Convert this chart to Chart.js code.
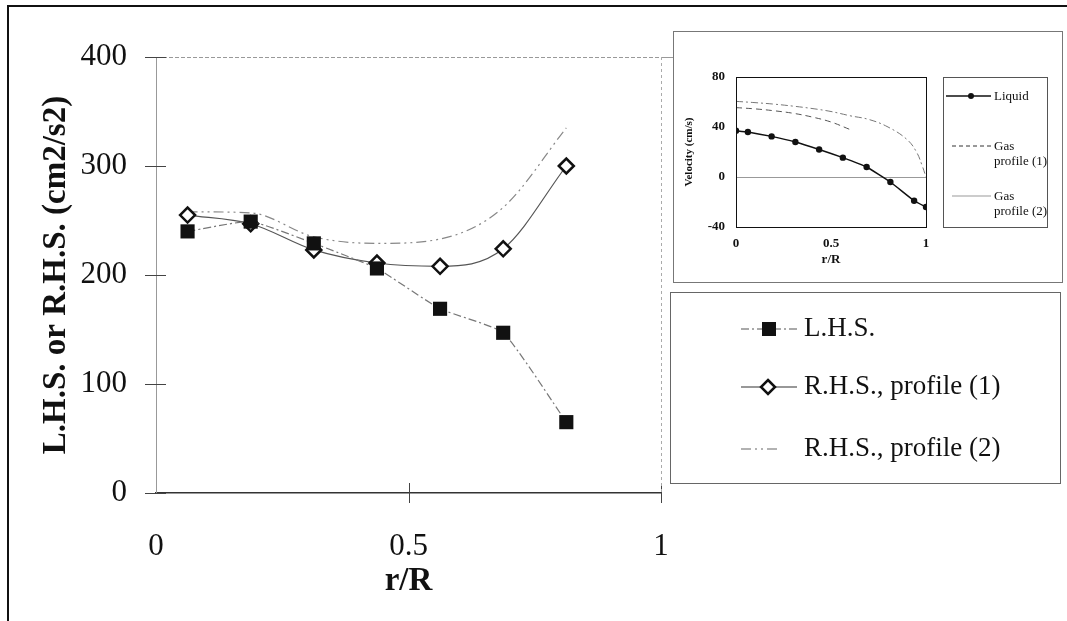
<!DOCTYPE html>
<html>
<head>
<meta charset="utf-8">
<script src="https://cdn.jsdelivr.net/npm/chart.js@4.4.1/dist/chart.umd.min.js"></script>
<style>
  html, body { margin: 0; padding: 0; background: #fff; }
  #wrap { position: relative; width: 1067px; height: 621px; overflow: hidden; font-family: "Liberation Serif", "Times New Roman", serif; color: #111; }
  #frame { position: absolute; left: 7px; top: 5px; width: 1100px; height: 700px; border-left: 2px solid #111; border-top: 2px solid #111; }
  #mainChart { position: absolute; left: 0; top: 0; }
  #insetBox { position: absolute; left: 673px; top: 31px; width: 388px; height: 250px; border: 1px solid #777; background: #fff; }
  #insetChart { position: absolute; left: 674px; top: 32px; }
  #insetLegend { position: absolute; left: 943px; top: 77px; width: 103px; height: 149px; border: 1px solid #555; font-size: 13px; line-height: 15px; }
  #mainLegend { position: absolute; left: 670px; top: 292px; width: 389px; height: 190px; border: 1px solid #666; font-size: 27px; }
  .row { position: absolute; white-space: nowrap; }
  .row svg { position: absolute; left: 0; top: 0; }
  .row span { position: absolute; }
</style>
</head>
<body>
<div id="wrap">
  <div id="frame"></div>
  <canvas id="mainChart" width="1067" height="621"></canvas>
  <div id="insetBox"></div>
  <canvas id="insetChart" width="386" height="250"></canvas>

  <div id="insetLegend">
    <div class="row" style="left:0;top:8px;width:103px;height:20px">
      <svg width="50" height="20"><line x1="2" y1="10" x2="47" y2="10" stroke="#111" stroke-width="1.5"/><circle cx="27" cy="10" r="3" fill="#111"/></svg>
      <span style="left:50px;top:2px">Liquid</span>
    </div>
    <div class="row" style="left:0;top:58px;width:103px;height:34px">
      <svg width="50" height="20"><line x1="8" y1="10" x2="47" y2="10" stroke="#333" stroke-width="1" stroke-dasharray="4,3"/></svg>
      <span style="left:50px;top:2px">Gas<br>profile (1)</span>
    </div>
    <div class="row" style="left:0;top:108px;width:103px;height:34px">
      <svg width="50" height="20"><line x1="8" y1="10" x2="47" y2="10" stroke="#999" stroke-width="1"/></svg>
      <span style="left:50px;top:2px">Gas<br>profile (2)</span>
    </div>
  </div>

  <div id="mainLegend">
    <div class="row" style="left:68px;top:20px;width:300px;height:32px">
      <svg width="66" height="32"><line x1="2" y1="16" x2="58" y2="16" stroke="#555" stroke-width="1.2" stroke-dasharray="8,3,2,3"/><rect x="23" y="9" width="14" height="14" fill="#111"/></svg>
      <span style="left:65px;top:-1px">L.H.S.</span>
    </div>
    <div class="row" style="left:68px;top:78px;width:320px;height:32px">
      <svg width="66" height="32"><line x1="2" y1="16" x2="58" y2="16" stroke="#333" stroke-width="1.2"/><polygon points="29,9 36,16 29,23 22,16" fill="#fff" stroke="#111" stroke-width="2.5"/></svg>
      <span style="left:65px;top:-1px">R.H.S., profile (1)</span>
    </div>
    <div class="row" style="left:68px;top:140px;width:320px;height:32px">
      <svg width="66" height="32"><line x1="2" y1="16" x2="42" y2="16" stroke="#666" stroke-width="1.2" stroke-dasharray="10,4,2,4,2,4"/></svg>
      <span style="left:65px;top:-1px">R.H.S., profile (2)</span>
    </div>
  </div>
</div>

<script>
// main chart: r/R positions and the three series
const rMain = [0.0625, 0.1875, 0.3125, 0.4375, 0.5625, 0.6875, 0.8125];
const lhs = [240, 249, 229, 206, 169, 147, 65];
const rhs1 = [255, 247, 223, 211, 208, 224, 300];
const rhs2 = [258, 257, 235, 229, 233, 262, 335];
const mainXTicks = [0, 0.5, 1];
const mainYTicks = [0, 100, 200, 300, 400];

// inset: velocity profiles
const rLiquid = [0, 0.0625, 0.1875, 0.3125, 0.4375, 0.5625, 0.6875, 0.8125, 0.9375, 1];
const liquid = [37, 36, 32.5, 28, 22, 15.5, 8, -4, -19, -24];
const rGas1 = [0, 0.1, 0.2, 0.3, 0.4, 0.5, 0.6];
const gas1 = [55.5, 54.5, 53, 51, 48, 44, 38];
const rGas2 = [0, 0.1, 0.2, 0.3, 0.4, 0.5, 0.6, 0.7, 0.8, 0.9, 0.95, 0.98, 1];
const gas2 = [60.5, 59.5, 58.3, 56.7, 54.8, 52.4, 49, 46, 40, 30, 20, 9, 0];

const SERIF = '"Liberation Serif", "Times New Roman", serif';
const pts = (xs, ys) => xs.map((x, i) => ({ x: x, y: ys[i] }));

const crossTicks = {
    id: 'crossTicks',
    afterDraw(chart) {
        const { ctx, scales: { x, y } } = chart;
        ctx.save();
        ctx.strokeStyle = '#444';
        ctx.lineWidth = 1;
        y.ticks.forEach(t => {
            const py = Math.round(y.getPixelForValue(t.value)) + 0.5;
            ctx.beginPath(); ctx.moveTo(x.left - 11, py); ctx.lineTo(x.left + 10, py); ctx.stroke();
        });
        x.ticks.forEach(t => {
            if (t.value === 0) return;
            const px = Math.round(x.getPixelForValue(t.value)) + 0.5;
            ctx.beginPath(); ctx.moveTo(px, y.bottom - 10); ctx.lineTo(px, y.bottom + 10); ctx.stroke();
        });
        // top line at 400 runs on a little past the plot edge
        const top = Math.round(y.getPixelForValue(400)) + 0.5;
        ctx.strokeStyle = '#999';
        ctx.beginPath(); ctx.moveTo(x.right, top); ctx.lineTo(x.right + 12, top); ctx.stroke();
        // faint right edge of the plot area
        ctx.strokeStyle = '#aaa';
        ctx.setLineDash([3, 3]);
        ctx.beginPath(); ctx.moveTo(x.right + 0.5, y.top); ctx.lineTo(x.right + 0.5, y.bottom); ctx.stroke();
        ctx.restore();
    }
};

const plotBox = {
    id: 'plotBox',
    afterDraw(chart) {
        const { ctx, chartArea: a } = chart;
        ctx.save();
        ctx.strokeStyle = '#111';
        ctx.lineWidth = 1;
        ctx.strokeRect(a.left + 0.5, a.top + 0.5, a.right - a.left, a.bottom - a.top);
        ctx.restore();
    }
};

new Chart(document.getElementById('mainChart'), {
    type: 'line',
    data: {
        datasets: [
            {
                label: 'L.H.S.',
                data: pts(rMain, lhs),
                borderColor: '#777',
                borderWidth: 1.2,
                borderDash: [8, 3, 2, 3],
                pointStyle: 'rect',
                pointRadius: 10,
                pointBackgroundColor: '#111',
                pointBorderColor: '#111',
                pointBorderWidth: 0,
                tension: 0.15
            },
            {
                label: 'R.H.S., profile (1)',
                data: pts(rMain, rhs1),
                borderColor: '#555',
                borderWidth: 1.2,
                pointStyle: 'rectRot',
                pointRadius: 7.5,
                pointBackgroundColor: '#fff',
                pointBorderColor: '#111',
                pointBorderWidth: 2.5,
                cubicInterpolationMode: 'monotone'
            },
            {
                label: 'R.H.S., profile (2)',
                data: pts(rMain, rhs2),
                borderColor: '#888',
                borderWidth: 1.2,
                borderDash: [10, 4, 2, 4, 2, 4],
                pointRadius: 0,
                cubicInterpolationMode: 'monotone'
            }
        ]
    },
    options: {
        responsive: false,
        animation: false,
        layout: { padding: { left: 0, right: 406, top: 57, bottom: 0 } },
        plugins: { legend: { display: false }, tooltip: { enabled: false } },
        scales: {
            x: {
                type: 'linear',
                min: 0,
                max: 1,
                afterBuildTicks: (s) => { s.ticks = mainXTicks.map(v => ({ value: v })); },
                afterFit: (s) => { s.height = 128; },
                grid: { display: false, drawTicks: false },
                border: { display: true, color: '#333', width: 1.5 },
                ticks: { padding: 35, color: '#111', font: { family: SERIF, size: 31 }, callback: v => String(v) },
                title: { display: true, text: 'r/R', color: '#111', font: { family: SERIF, size: 33, weight: 'bold' }, padding: { top: 0, bottom: 20 } }
            },
            y: {
                min: 0,
                max: 400,
                afterBuildTicks: (s) => { s.ticks = mainYTicks.map(v => ({ value: v })); },
                afterFit: (s) => { s.width = 156; },
                grid: {
                    drawTicks: false,
                    color: (c) => (c.tick && c.tick.value === 400 ? '#999' : 'rgba(0,0,0,0)')
                },
                border: { display: true, color: '#999', dash: [4, 2] },
                ticks: { padding: 29, color: '#111', font: { family: SERIF, size: 31 } },
                title: { display: true, text: 'L.H.S. or R.H.S. (cm2/s2)', color: '#111', font: { family: SERIF, size: 33, weight: 'bold' }, padding: { top: 37, bottom: 0 } }
            }
        }
    },
    plugins: [crossTicks]
});

new Chart(document.getElementById('insetChart'), {
    type: 'line',
    data: {
        datasets: [
            {
                label: 'Liquid',
                data: pts(rLiquid, liquid),
                borderColor: '#111',
                borderWidth: 1.5,
                pointStyle: 'circle',
                pointRadius: 3.2,
                pointBackgroundColor: '#111',
                pointBorderWidth: 0,
                tension: 0.1
            },
            {
                label: 'Gas profile (1)',
                data: pts(rGas1, gas1),
                borderColor: '#555',
                borderWidth: 1,
                borderDash: [6, 4],
                pointRadius: 0,
                tension: 0.4
            },
            {
                label: 'Gas profile (2)',
                data: pts(rGas2, gas2),
                borderColor: '#777',
                borderWidth: 1,
                borderDash: [7, 3, 2, 3],
                pointRadius: 0,
                tension: 0.4
            }
        ]
    },
    options: {
        responsive: false,
        animation: false,
        layout: { padding: { left: 0, right: 134, top: 45, bottom: 0 } },
        plugins: { legend: { display: false }, tooltip: { enabled: false } },
        scales: {
            x: {
                type: 'linear',
                min: 0,
                max: 1,
                afterBuildTicks: (s) => { s.ticks = mainXTicks.map(v => ({ value: v })); },
                afterFit: (s) => { s.height = 55; },
                grid: { display: false, drawTicks: false },
                border: { display: true, color: '#111' },
                ticks: { padding: 9, color: '#111', font: { family: SERIF, size: 13, weight: 'bold' }, callback: v => String(v) },
                title: { display: true, text: 'r/R', color: '#111', font: { family: SERIF, size: 13, weight: 'bold' }, padding: { top: 0, bottom: 15 } }
            },
            y: {
                min: -40,
                max: 80,
                ticks: { stepSize: 40, padding: 11, color: '#111', font: { family: SERIF, size: 13, weight: 'bold' } },
                afterFit: (s) => { s.width = 62; },
                grid: {
                    drawTicks: false,
                    color: (c) => (c.tick && c.tick.value === 0 ? '#999' : 'rgba(0,0,0,0)')
                },
                border: { display: true, color: '#111' },
                title: { display: true, text: 'Velocity (cm/s)', color: '#111', font: { family: SERIF, size: 11, weight: 'bold' }, padding: { top: 9, bottom: 0 } }
            }
        }
    },
    plugins: [plotBox]
});
</script>
</body>
</html>
